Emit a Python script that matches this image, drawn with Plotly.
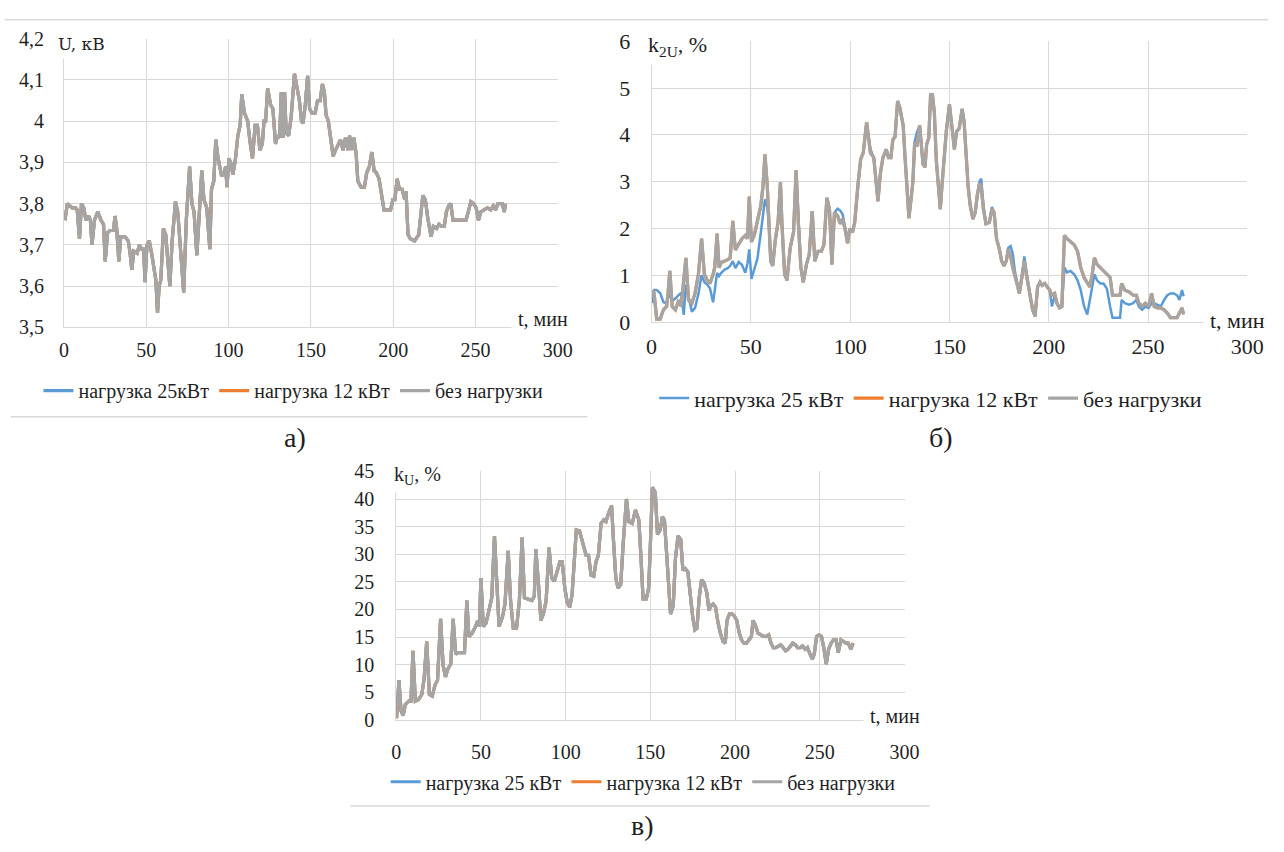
import plotly.graph_objects as go

W, H = 1284, 852
FONT = "Liberation Serif"
FONT2 = "DejaVu Serif"
TXT = "#1f1f1f"
GRID = "#d9d9d9"
C_BLUE, C_ORANGE, C_GRAY = "#5B9BD5", "#ED7D31", "#A5A5A5"

# ---------------- data ----------------
names_a = ["нагрузка 25кВт", "нагрузка 12 кВт", "без нагрузки"]
names_bc = ["нагрузка 25 кВт", "нагрузка 12 кВт", "без нагрузки"]

# panel а) voltage U, kV
t_a = [0.6, 2, 5, 7, 8, 9.4, 10.6, 12, 13.3, 15, 16, 17, 18.5, 20.5, 22.5, 24, 25, 26.5, 28, 30,
       31, 32, 33.3, 34.5, 37, 39, 40, 41.2, 42.4, 44.4, 45.8, 47.2, 48.4, 49.2, 50.4, 51.8, 53.2,
       54.8, 55.8, 56.8, 57.8, 58.8, 60.4, 61.8, 63.1, 64.3, 65.7, 67.7, 69.1, 70.7, 72.7, 74.3,
       76.3, 77.7, 79, 80.7, 82.3, 83.7, 85, 86.7, 88.6, 89.6, 91, 92.2, 93.6, 95.6, 97, 98.2, 99,
       100.2, 101.6, 102.6, 104.2, 105.6, 107, 108, 109.6, 111.6, 113, 114.5, 116.1, 117.5, 119,
       120.5, 121.5, 122.5, 123.7, 125.5, 126.9, 128.5, 129.7, 131, 132, 133.1, 134, 135, 136.5,
       138, 140, 141.5, 143, 144.3, 145.2, 146.6, 148, 149.2, 150.6, 152.6, 154, 155.6, 157,
       158.2, 159.2, 160.6, 162, 163.5, 165, 166.5, 168, 169.5, 171, 172.5, 173.5, 174.9, 176.1,
       177.5, 178.5, 180.5, 182.5, 183.9, 185.5, 187, 188.4, 189.8, 191.4, 193, 194.4, 196.4,
       198.4, 199.8, 201, 202.4, 203.8, 205.4, 207, 207.8, 209, 210.4, 213, 215.5, 216.5, 218,
       219.5, 221, 223, 224.4, 226.4, 227.8, 229.3, 231, 232.3, 233.7, 235, 236.3, 238.3, 240.2,
       242.2, 244.2, 245.6, 247.2, 248.8, 250.4, 251.8, 253.2, 255.2, 257.2, 259.2, 260.8, 262.2,
       263.6, 266.2, 267.5, 268.1]
u_a = [3.76, 3.80, 3.79, 3.79, 3.785, 3.715, 3.80, 3.79, 3.76, 3.77, 3.76, 3.70, 3.76, 3.78, 3.76,
       3.75, 3.66, 3.73, 3.735, 3.735, 3.77, 3.74, 3.66, 3.72, 3.72, 3.71, 3.685, 3.64, 3.685, 3.68,
       3.70, 3.69, 3.69, 3.61, 3.70, 3.71, 3.68, 3.64, 3.615, 3.535, 3.60, 3.615, 3.74, 3.725, 3.66,
       3.60, 3.71, 3.805, 3.78, 3.68, 3.585, 3.76, 3.89, 3.80, 3.78, 3.675, 3.80, 3.88, 3.81, 3.79,
       3.69, 3.835, 3.855, 3.955, 3.91, 3.87, 3.87, 3.89, 3.84, 3.91, 3.895, 3.87, 3.91, 3.965,
       3.99, 4.065, 4.02, 4.00, 3.95, 3.91, 3.99, 3.99, 3.93, 3.945, 4.00, 4.00, 4.08, 4.04, 4.03,
       3.945, 3.965, 3.96, 4.07, 3.96, 4.07, 3.97, 3.965, 4.01, 4.115, 4.085, 4.05, 4.00, 3.995,
       4.04, 4.11, 4.03, 4.02, 4.02, 4.05, 4.05, 4.09, 4.07, 4.015, 4.00, 3.96, 3.915, 3.93, 3.945,
       3.955, 3.93, 3.96, 3.93, 3.965, 3.93, 3.96, 3.92, 3.855, 3.84, 3.84, 3.875, 3.89, 3.925,
       3.88, 3.875, 3.86, 3.82, 3.785, 3.785, 3.785, 3.81, 3.81, 3.86, 3.835, 3.835, 3.81, 3.83,
       3.725, 3.715, 3.71, 3.725, 3.77, 3.82, 3.81, 3.765, 3.72, 3.745, 3.74, 3.75, 3.745, 3.745,
       3.78, 3.795, 3.80, 3.76, 3.76, 3.76, 3.76, 3.76, 3.78, 3.805, 3.80, 3.79, 3.76, 3.78, 3.785,
       3.79, 3.785, 3.795, 3.785, 3.80, 3.80, 3.78, 3.80]

# panel б) negative-sequence unbalance k2U, %
t_b = [0.5, 1.3, 2.6, 4.3, 6.0, 7.6, 8.3, 9.2, 10.4, 12.0, 13.7, 14.9, 16.2, 17.3, 18.6, 20.3, 21.9,
       23.6, 25.2, 26.6, 28.0, 29.4, 31.0, 31.8, 33.0, 34.0, 35.1, 36.8, 38.4, 39.6, 40.9, 42.2,
       43.9, 45.5, 47.2, 48.3, 49.2, 50.3, 51.7, 53.3, 55.0, 56.1, 57.1, 58.3, 59.1, 60.0, 61.0,
       62.4, 63.7, 64.9, 65.7, 67.0, 68.2, 69.8, 71.5, 72.8, 73.9, 75.2, 76.4, 78.0, 79.4, 80.9,
       82.2, 83.8, 85.5, 86.8, 88.3, 89.6, 90.8, 92.1, 93.7, 95.0, 96.2, 97.4, 98.7, 99.8, 101.2,
       102.3, 104.0, 105.3, 106.6, 107.4, 108.3, 109.2, 110.2, 111.9, 113.0, 114.0, 115.2, 116.5,
       118.2, 119.3, 120.5, 121.5, 122.6, 123.9, 125.0, 126.7, 127.6, 128.4, 129.6, 130.6, 131.6,
       132.5, 133.6, 135.0, 135.9, 136.7, 137.7, 138.5, 139.6, 140.5, 141.4, 142.4, 143.4, 144.4,
       145.4, 146.2, 147.4, 148.4, 150.0, 151.2, 152.5, 153.6, 154.9, 156.4, 157.4, 158.6, 159.4,
       160.5, 161.8, 163.0, 163.9, 165.1, 166.0, 167.1, 168.4, 170.1, 171.4, 172.5, 173.7, 175.0,
       176.3, 177.5, 178.6, 179.6, 180.8, 181.9, 182.9, 184.0, 185.2, 186.5, 187.7, 188.7, 189.8,
       191.0, 191.9, 193.1, 194.4, 195.6, 196.7, 198.0, 199.7, 200.5, 201.6, 203.0, 204.1, 205.4,
       206.6, 207.9, 209.2, 210.9, 212.8, 214.5, 216.1, 217.8, 219.4, 220.7, 221.9, 223.0, 224.3,
       226.0, 227.6, 229.3, 230.9, 232.1, 234.2, 235.9, 236.7, 238.3, 240.5, 242.5, 244.1, 245.4,
       247.0, 248.7, 250.3, 251.8, 253.1, 254.8, 256.4, 258.1, 259.7, 261.3, 263.0, 264.6, 265.8,
       267.1, 267.9]
k2_gray = [0.68, 0.61, 0.06, 0.06, 0.26, 0.33, 0.61, 1.09, 0.33, 0.26, 0.47, 0.33, 0.89, 1.37, 0.47,
           0.40, 0.61, 1.02, 1.78, 1.02, 0.89, 0.82, 1.02, 1.16, 1.89, 1.16, 1.27, 1.30, 1.33, 1.37,
           2.16, 1.54, 1.65, 1.78, 1.85, 1.78, 2.68, 1.71, 1.85, 2.13, 2.48, 2.89, 3.58, 2.89, 2.06,
           1.30, 1.20, 1.78, 2.13, 2.99, 2.06, 1.02, 0.89, 1.58, 1.92, 3.24, 2.13, 1.16, 0.85, 1.23,
           1.44, 2.37, 1.30, 1.51, 1.51, 1.65, 2.65, 2.41, 1.23, 2.34, 2.27, 2.10, 2.20, 1.99, 1.68,
           1.99, 1.92, 2.13, 2.96, 3.48, 3.62, 3.96, 4.27, 3.96, 3.62, 3.51, 2.96, 2.58, 3.17, 3.51,
           3.69, 3.51, 3.51, 3.89, 3.96, 4.72, 4.58, 4.20, 3.55, 2.96, 2.22, 2.60, 3.00, 3.85, 3.75,
           4.20, 3.79, 3.37, 3.31, 3.79, 3.93, 4.86, 4.86, 4.48, 3.44, 2.82, 2.41, 2.89, 3.58, 4.07,
           4.65, 4.20, 3.69, 4.07, 4.14, 4.55, 4.27, 3.44, 2.89, 2.48, 2.20, 2.34, 2.68, 2.96, 2.89,
           2.41, 2.10, 2.13, 2.41, 2.34, 1.78, 1.58, 1.30, 1.20, 1.30, 1.54, 1.40, 1.16, 1.02, 0.82,
           0.61, 0.95, 1.30, 1.02, 0.75, 0.47, 0.26, 0.12, 0.75, 0.85, 0.78, 0.82, 0.71, 0.68, 0.57,
           0.61, 0.40, 0.30, 0.33, 1.85, 1.78, 1.71, 1.65, 1.51, 1.16, 0.95, 0.82, 0.75, 1.02, 1.37,
           1.23, 1.16, 1.09, 1.02, 0.95, 0.57, 0.57, 0.57, 0.82, 0.68, 0.64, 0.57, 0.57, 0.40, 0.33,
           0.40, 0.33, 0.61, 0.33, 0.30, 0.30, 0.26, 0.19, 0.09, 0.09, 0.09, 0.19, 0.30, 0.16]
k2_blue = [0.40, 0.68, 0.68, 0.62, 0.42, 0.40, 0.50, 0.62, 0.45, 0.50, 0.58, 0.62, 0.15, 0.80, 0.55,
           0.22, 0.30, 0.60, 1.00, 0.85, 0.80, 0.72, 0.42, 0.70, 1.05, 0.98, 1.05, 1.12, 1.15, 1.20,
           1.30, 1.15, 1.28, 1.22, 1.05, 1.25, 1.55, 0.92, 1.10, 1.35, 1.90, 2.35, 2.62, 2.45, 2.06,
           1.30, 1.20, 1.78, 2.13, 2.99, 2.06, 1.02, 0.89, 1.58, 1.92, 3.24, 2.13, 1.16, 0.85, 1.23,
           1.44, 2.37, 1.30, 1.51, 1.51, 1.65, 2.65, 2.41, 1.23, 2.34, 2.42, 2.38, 2.30, 2.05, 1.75,
           1.99, 1.92, 2.13, 2.96, 3.48, 3.62, 3.96, 4.27, 3.96, 3.70, 3.51, 2.96, 2.58, 3.17, 3.51,
           3.69, 3.51, 3.51, 3.89, 3.96, 4.72, 4.58, 4.20, 3.55, 2.96, 2.22, 2.60, 3.00, 3.85, 4.05,
           4.20, 3.79, 3.37, 3.31, 3.79, 3.93, 4.86, 4.86, 4.48, 3.44, 2.85, 2.41, 2.89, 3.58, 4.07,
           4.65, 4.20, 3.69, 4.07, 4.14, 4.55, 4.27, 3.44, 2.89, 2.48, 2.20, 2.34, 2.68, 3.00, 3.06,
           2.50, 2.10, 2.13, 2.46, 2.34, 1.78, 1.58, 1.30, 1.20, 1.30, 1.58, 1.62, 1.45, 1.10, 0.82,
           0.61, 0.95, 1.40, 1.10, 0.75, 0.47, 0.26, 0.12, 0.75, 0.85, 0.78, 0.82, 0.71, 0.68, 0.33,
           0.55, 0.40, 0.30, 0.33, 1.16, 1.06, 1.09, 1.02, 0.89, 0.68, 0.33, 0.16, 0.47, 0.75, 1.02,
           0.89, 0.82, 0.82, 0.71, 0.33, 0.09, 0.09, 0.09, 0.47, 0.40, 0.37, 0.40, 0.47, 0.33, 0.26,
           0.33, 0.30, 0.40, 0.40, 0.37, 0.33, 0.47, 0.57, 0.61, 0.61, 0.57, 0.47, 0.68, 0.55]

# panel в) voltage distortion kU, %
t_c = [0.2, 1.6, 2.9, 4.1, 5.4, 7.4, 8.7, 9.9, 11.3, 13.2, 15.1, 16.5, 18.0, 19.6, 21.3, 22.9, 24.4,
       26.2, 27.7, 29.1, 30.6, 32.2, 33.6, 35.1, 36.5, 38.4, 40.3, 41.7, 42.9, 44.8, 46.8, 48.1,
       49.1, 50.0, 51.4, 53.0, 54.9, 56.4, 58.0, 59.4, 60.7, 62.7, 64.2, 66.1, 67.5, 69.1, 71.0,
       72.7, 74.3, 75.7, 77.8, 80.1, 81.5, 82.4, 84.0, 85.4, 86.9, 88.5, 90.2, 91.8, 93.3, 95.1,
       96.6, 98.0, 99.5, 100.9, 102.4, 103.8, 104.9, 106.3, 108.2, 110.2, 112.1, 113.5, 115.0,
       116.6, 117.9, 119.3, 120.9, 122.4, 123.8, 125.3, 127.1, 128.2, 129.6, 130.9, 132.5, 134.0,
       135.9, 137.3, 139.3, 141.2, 143.2, 144.5, 145.7, 147.6, 149.0, 149.8, 151.2, 152.9, 154.2,
       155.8, 157.1, 158.3, 159.6, 161.0, 161.9, 163.5, 164.8, 166.3, 167.9, 169.2, 170.6, 172.1,
       173.7, 175.0, 176.3, 177.5, 178.8, 180.2, 181.7, 183.3, 184.6, 185.6, 187.1, 188.5, 189.8,
       191.3, 192.9, 194.2, 195.2, 196.7, 198.1, 199.4, 201.0, 202.5, 203.8, 205.2, 206.7, 208.3,
       209.6, 210.6, 211.9, 213.5, 214.8, 216.3, 218.3, 219.8, 221.2, 222.5, 224.0, 225.6, 226.9,
       228.3, 229.8, 231.2, 232.7, 234.0, 235.6, 236.9, 238.5, 239.8, 241.3, 242.7, 244.2, 245.6,
       246.7, 248.1, 249.6, 251.0, 252.5, 253.8, 255.2, 256.7, 258.1, 259.6, 260.9, 262.5, 264.0,
       265.4, 266.7, 268.3, 269.6]
ku = [0.3, 7.2, 1.6, 0.8, 2.8, 3.4, 3.4, 12.5, 3.4, 3.7, 4.6, 7.5, 14.2, 4.6, 4.3, 6.3, 7.2, 18.3,
      9.8, 7.8, 9.3, 10.1, 18.3, 11.9, 12.2, 12.2, 12.2, 21.6, 15.1, 15.7, 16.9, 18.0, 16.9, 25.7,
      16.9, 17.5, 20.4, 22.1, 33.3, 23.3, 16.9, 18.6, 21.0, 30.6, 21.6, 16.6, 16.6, 21.6, 33.0, 22.1,
      21.9, 21.6, 22.4, 30.9, 24.5, 18.0, 19.2, 21.6, 31.2, 25.7, 25.1, 26.8, 28.6, 28.6, 23.9,
      21.3, 20.4, 22.7, 28.0, 34.4, 34.2, 32.1, 29.8, 29.8, 26.2, 26.0, 28.6, 29.8, 35.6, 36.2,
      35.9, 37.4, 38.8, 32.7, 25.7, 23.9, 24.5, 32.1, 40.0, 35.9, 35.6, 38.0, 36.2, 29.2, 21.9,
      21.9, 23.9, 30.0, 42.1, 41.2, 33.6, 34.4, 36.8, 36.2, 30.3, 23.9, 19.2, 20.7, 29.2, 33.3,
      32.7, 27.1, 27.4, 26.8, 22.1, 18.6, 16.3, 16.6, 22.1, 25.4, 24.8, 23.0, 19.8, 20.7, 21.0,
      20.4, 17.8, 15.7, 14.2, 13.9, 18.0, 19.2, 19.2, 18.9, 18.0, 15.7, 14.5, 13.9, 13.9, 14.5,
      15.1, 18.0, 17.2, 15.7, 15.4, 15.2, 15.1, 15.4, 13.9, 13.1, 13.1, 13.4, 13.6, 13.1, 12.5,
      12.8, 13.4, 13.9, 13.6, 13.1, 13.1, 13.4, 12.8, 13.1, 11.9, 11.0, 11.9, 15.1, 15.4, 15.1,
      12.8, 10.1, 12.8, 13.9, 14.5, 14.5, 12.2, 14.5, 14.2, 13.9, 13.9, 12.8, 13.9]

x_ticks = [0, 50, 100, 150, 200, 250, 300]
x_ticktext = ["0", "50", "100", "150", "200", "250", "300"]
ya_ticks = [3.5, 3.6, 3.7, 3.8, 3.9, 4.0, 4.1, 4.2]
ya_ticktext = ["3,5", "3,6", "3,7", "3,8", "3,9", "4", "4,1", "4,2"]
yb_ticks = [0, 1, 2, 3, 4, 5, 6]
yc_ticks = [0, 5, 10, 15, 20, 25, 30, 35, 40, 45]

# --------------- figure ---------------
def fx(px):
    return px / W

def fy(py):
    return 1 - py / H

fig = go.Figure()
colors = [C_BLUE, C_ORANGE, C_GRAY]
LW = 3.2

series_a = [(t_a, u_a), (t_a, u_a), (t_a, u_a)]
series_b = [(t_b, k2_blue), (t_b, k2_gray), (t_b, k2_gray)]
series_c = [(t_c, ku), (t_c, ku), (t_c, ku)]

for (xs, ys), nm, col in zip(series_a, names_a, colors):
    fig.add_trace(go.Scatter(x=xs, y=ys, name=nm, mode="lines", xaxis="x", yaxis="y",
                             line=dict(color=col, width=LW), legend="legend"))
for (xs, ys), nm, col in zip(series_b, names_bc, colors):
    fig.add_trace(go.Scatter(x=xs, y=ys, name=nm, mode="lines", xaxis="x2", yaxis="y2",
                             line=dict(color=col, width=LW if col != C_BLUE else 2.5),
                             legend="legend2"))
for (xs, ys), nm, col in zip(series_c, names_bc, colors):
    fig.add_trace(go.Scatter(x=xs, y=ys, name=nm, mode="lines", xaxis="x3", yaxis="y3",
                             line=dict(color=col, width=LW), legend="legend3"))


def xax(dom, anchor, size, standoff):
    return dict(domain=dom, anchor=anchor, range=[0, 300], tickvals=x_ticks, ticktext=x_ticktext,
                showgrid=True, gridcolor=GRID, gridwidth=1, showline=True, linecolor=GRID,
                linewidth=1, zeroline=False, ticks="", ticklabelstandoff=standoff,
                tickfont=dict(family=FONT, size=size))


def yax(dom, anchor, rng, vals, text, size, standoff):
    return dict(domain=dom, anchor=anchor, range=rng, tickvals=vals, ticktext=text,
                showgrid=True, gridcolor=GRID, gridwidth=1, showline=True, linecolor=GRID,
                linewidth=1, zeroline=False, ticks="", ticklabelstandoff=standoff,
                tickfont=dict(family=FONT, size=size))


def legend(x, y, size):
    return dict(orientation="h", x=x, y=y, xanchor="left", yanchor="middle",
                font=dict(family=FONT, size=size), bgcolor="rgba(0,0,0,0)", borderwidth=0)


def note(text, x, y, size, bg=True, pad=4, family=FONT):
    d = dict(text=text, x=fx(x), y=fy(y), xref="paper", yref="paper", showarrow=False,
             xanchor="center", yanchor="middle", font=dict(family=family, size=size),
             borderpad=pad)
    if bg:
        d["bgcolor"] = "white"
    return d


def hline(x0, x1, y):
    return dict(type="line", xref="paper", yref="paper", x0=fx(x0), x1=fx(x1), y0=fy(y), y1=fy(y),
                line=dict(color=GRID, width=1.5))


fig.update_layout(
    width=W, height=H, margin=dict(l=0, r=0, t=0, b=0),
    paper_bgcolor="white", plot_bgcolor="white",
    font=dict(family=FONT, color=TXT, size=20),
    xaxis=xax([fx(60), fx(562)], "y", 20, 5),
    yaxis=yax([fy(325), fy(27.5)], "x", [3.5, 4.2], ya_ticks, ya_ticktext, 20, 15),
    xaxis2=xax([fx(657.3), fx(1263)], "y2", 22, 5),
    yaxis2=yax([fy(319.3), fy(30.1)], "x2", [0, 6], yb_ticks, [str(v) for v in yb_ticks], 22, 16),
    xaxis3=xax([fx(397.7), fx(914.5)], "y3", 20, 14),
    yaxis3=yax([fy(729.3), fy(473.3)], "x3", [0, 45], yc_ticks, [str(v) for v in yc_ticks], 20, 17),
    legend=legend(fx(34), fy(390), 20),
    legend2=legend(fx(660), fy(398), 22),
    legend3=legend(fx(387), fy(793), 20),
    annotations=[
        note("U, кВ", 78, 33, 17, family=FONT2),
        note("k<sub>2U</sub>, %", 684, 35, 22),
        note("k<sub>U</sub>, %", 419, 477, 20),
        note("t, мин", 547, 316, 20, pad=6),
        note("t, мин", 1253, 318, 22, pad=6),
        note("t, мин", 905, 725, 20, pad=6),
        note("а)", 295, 438, 28, bg=False),
        note("б)", 952, 438, 28, bg=False),
        note("в)", 648, 838, 28, bg=False),
    ],
    shapes=[hline(0, 1284, 8), hline(6, 592, 417), hline(351, 940, 818)],
)

fig.write_html("out.html")
